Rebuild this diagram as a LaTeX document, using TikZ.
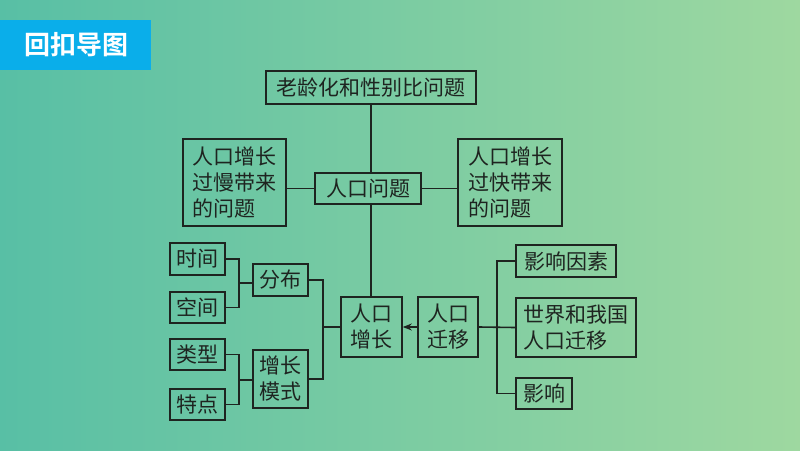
\documentclass[tikz,border=0pt]{standalone}
\usepackage{fontspec}
\newfontfamily\cjk{Noto Sans CJK SC}
\newfontfamily\cjkb{Noto Sans CJK SC Bold}
\usetikzlibrary{arrows.meta}
\definecolor{bgl}{HTML}{58BFA5}
\definecolor{bgr}{HTML}{9ED8A0}
\definecolor{titleblue}{HTML}{0AAEEA}
\definecolor{ink}{HTML}{1E2420}
\tikzset{
  box/.style={draw=ink, line width=1.6pt, text=ink, inner sep=0pt, align=left,
    font=\cjk\fontsize{21}{26}\selectfont},
  conn/.style={draw=ink, line width=1.6pt},
}
\begin{document}
\begin{tikzpicture}[x=1pt,y=-1pt]
\useasboundingbox (0,0) rectangle (800,450);
\shade[left color=bgl, right color=bgr] (0,0) rectangle (800,450);
\fill[titleblue] (0,20) rectangle (151,70);
\node[text=white, font=\cjkb\fontsize{26}{26}\selectfont] (title) at (76,45) {回扣导图};

\node[box, minimum width=210, minimum height=33] (top) at (371,87.5) {老龄化和性别比问题};
\node[box, minimum width=103, minimum height=87] (slow) at (234.5,182.5) {人口增长\\过慢带来\\的问题};
\node[box, minimum width=106, minimum height=31] (prob) at (368,188.5) {人口问题};
\node[box, minimum width=104, minimum height=87] (fast) at (510,182.5) {人口增长\\过快带来\\的问题};

\node[box, minimum width=55, minimum height=32] (sj) at (197.5,259) {时间};
\node[box, minimum width=55, minimum height=31] (kj) at (197.5,307.5) {空间};
\node[box, minimum width=55, minimum height=31] (lx) at (197.5,354.5) {类型};
\node[box, minimum width=55, minimum height=31] (td) at (197.5,404.5) {特点};
\node[box, minimum width=55, minimum height=32] (fb) at (280.5,280) {分布};
\node[box, minimum width=55, minimum height=58] (zzms) at (280.5,379) {增长\\模式};
\node[box, minimum width=61, minimum height=60] (rkzz) at (371.5,327) {人口\\增长};
\node[box, minimum width=60, minimum height=60] (rkqy) at (448,327) {人口\\迁移};
\node[box, minimum width=100, minimum height=32] (yxys) at (566,261) {影响因素};
\node[box, minimum width=120, minimum height=59] (sj2) at (576,327.5) {世界和我国\\人口迁移};
\node[box, minimum width=56, minimum height=31] (yx) at (544,393.5) {影响};

% vertical spine
\draw[conn] (top.south) -- (top.south |- prob.north);
\draw[conn] (top.south |- prob.south) -- (top.south |- rkzz.north);
\draw[conn] (slow.east |- prob.west) -- (prob.west);
\draw[conn] (prob.east) -- (fast.west |- prob.east);

% left brackets
\coordinate (b1) at (239,283);
\draw[conn] (sj.east) -| (b1) |- (kj.east);
\draw[conn] (b1) -- (fb.west |- b1);
\coordinate (b2) at (239,380);
\draw[conn] (lx.east) -| (b2) |- (td.east);
\draw[conn] (b2) -- (zzms.west |- b2);
\coordinate (b3) at (323,327);
\draw[conn] (fb.east) -| (b3) |- (zzms.east);
\draw[conn] (b3) -- (rkzz.west);

% arrow
\draw[conn, -{Stealth[length=9pt,width=7pt]}] (rkqy.west) -- (rkzz.east);

% right bracket
\coordinate (b4) at (497,327);
\draw[conn] (rkqy.east) -- (sj2.west);
\draw[conn] (yxys.west) -| (b4) |- (yx.west);
\end{tikzpicture}
\end{document}
